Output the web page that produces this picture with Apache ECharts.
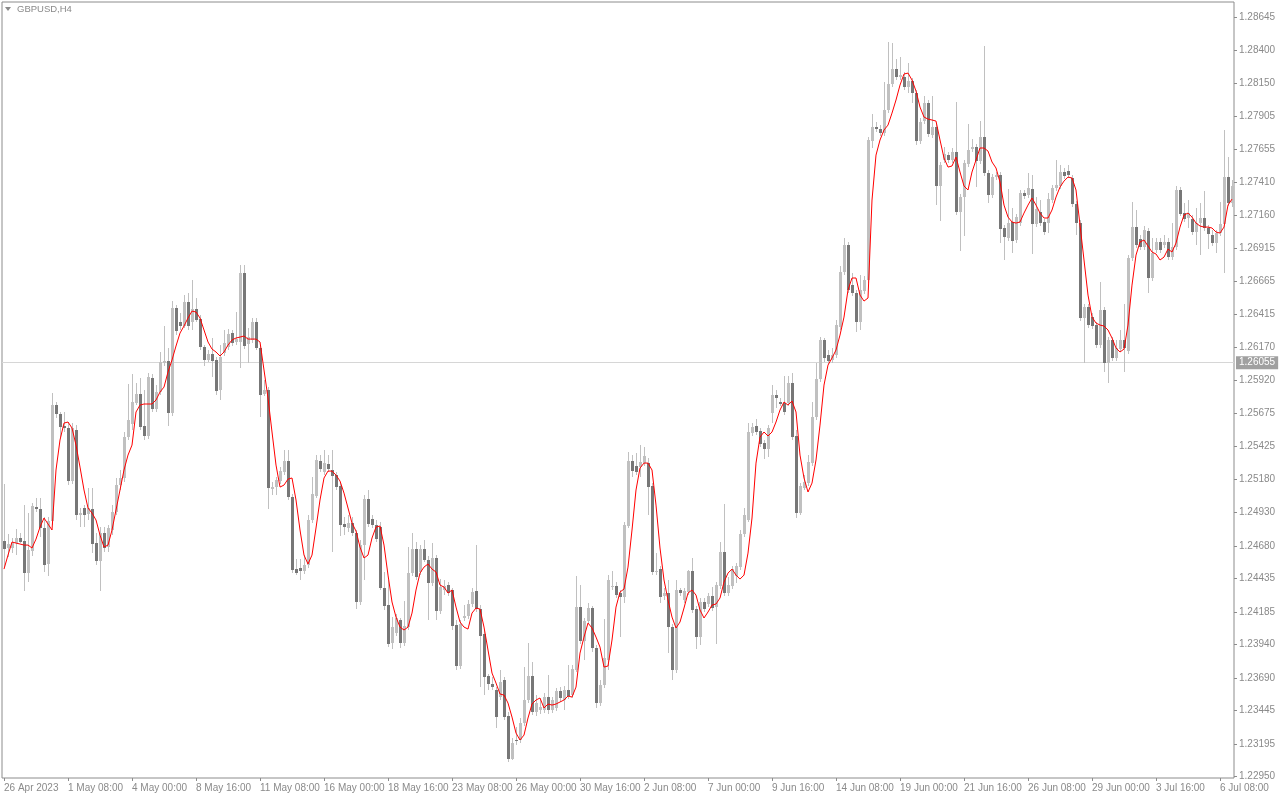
<!DOCTYPE html>
<html>
<head>
<meta charset="utf-8">
<script src="https://cdn.jsdelivr.net/npm/echarts@6/dist/echarts.min.js"></script>
<style>
html,body{margin:0;padding:0;background:#fff;}
#chart{width:1280px;height:800px;}
</style>
</head>
<body>
<div id="chart"></div>
<script>
const symbolTitle = 'GBPUSD,H4';
const currentPrice = 1.26055;

const opens = [1.24717,1.24665,1.24665,1.24702,1.24740,1.24717,1.24477,1.24642,1.24972,1.24957,
1.24815,1.24545,1.24867,1.25737,1.25670,1.25580,1.25565,1.25167,1.25550,1.24912,
1.24965,1.24920,1.24957,1.24702,1.24567,1.24777,1.24672,1.24800,1.24935,1.25137,
1.25190,1.25497,1.25595,1.25752,1.25820,1.25580,1.25505,1.25940,1.25707,1.25835,
1.26052,1.26067,1.25677,1.26465,1.26360,1.26330,1.26510,1.26360,1.26457,1.26382,
1.26172,1.26075,1.26120,1.26075,1.25850,1.26127,1.26172,1.26277,1.26210,1.26210,
1.26727,1.26195,1.26225,1.26360,1.26165,1.25820,1.25850,1.25107,1.25122,1.25167,
1.25235,1.25317,1.25047,1.24507,1.24515,1.24492,1.24537,1.24875,1.25055,1.25317,
1.25235,1.25295,1.25250,1.25212,1.25130,1.24845,1.24815,1.24852,1.24777,1.24260,
1.24687,1.25032,1.24882,1.24837,1.24822,1.24365,1.24237,1.23952,1.24027,1.24125,
1.23952,1.24072,1.24477,1.24657,1.24485,1.24657,1.24575,1.24402,1.24590,1.24192,
1.24350,1.24387,1.24350,1.24087,1.23780,1.24140,1.24155,1.24245,1.24342,1.24207,
1.24020,1.23705,1.23645,1.23600,1.23547,1.23675,1.23405,1.23082,1.23225,1.23225,
1.23352,1.23525,1.23705,1.23435,1.23450,1.23450,1.23547,1.23450,1.23465,1.23592,
1.23525,1.23600,1.23562,1.23750,1.24222,1.23967,1.24117,1.24215,1.23915,1.23502,
1.23637,1.23825,1.24372,1.24380,1.24327,1.24297,1.24830,1.25317,1.25280,1.25272,
1.25302,1.25302,1.25130,1.24485,1.24507,1.24305,1.24327,1.24072,1.23750,1.24350,
1.24275,1.24335,1.24492,1.24207,1.23997,1.24260,1.24245,1.24305,1.24222,1.24380,
1.24635,1.24327,1.24380,1.24455,1.24522,1.24770,1.24875,1.25527,1.25580,1.25542,
1.25452,1.25407,1.25677,1.25812,1.25760,1.25752,1.25752,1.25902,1.25505,1.24927,
1.25115,1.25152,1.25302,1.25647,1.25932,1.26225,1.26112,1.26075,1.26112,1.26322,
1.26735,1.26937,1.26637,1.26577,1.26360,1.26592,1.26675,1.27717,1.27822,1.27807,
1.27777,1.27950,1.28145,1.28257,1.28197,1.28197,1.28122,1.28167,1.28077,1.27717,
1.27867,1.28002,1.27762,1.27822,1.27380,1.27575,1.27612,1.27575,1.27635,1.27185,
1.27297,1.27545,1.27657,1.27672,1.27567,1.27747,1.27477,1.27312,1.27447,1.27462,
1.27065,1.26990,1.27110,1.26975,1.27102,1.27327,1.27312,1.27357,1.27095,1.27185,
1.27110,1.27102,1.27275,1.27365,1.27380,1.27485,1.27492,1.27440,1.27245,1.27102,
1.26390,1.26472,1.26397,1.26337,1.26187,1.26450,1.26052,1.26225,1.26090,1.26157,
1.26225,1.26142,1.26840,1.27072,1.26982,1.26922,1.27042,1.26690,1.26900,1.26960,
1.26937,1.26960,1.26847,1.26922,1.27350,1.27177,1.27140,1.27132,1.27035,1.27102,
1.27140,1.27065,1.27012,1.26952,1.27027,1.27095,1.27447,1.27252];

const highs = [1.25145,1.24770,1.24740,1.24807,1.24777,1.24987,1.24927,1.25002,1.25040,1.25040,
1.24897,1.24897,1.25827,1.25760,1.25685,1.25685,1.25610,1.25602,1.25587,1.24965,
1.24987,1.25115,1.25115,1.24777,1.24822,1.24822,1.24837,1.24987,1.25190,1.25250,
1.25535,1.25895,1.25970,1.25902,1.25940,1.25850,1.25977,1.25970,1.25887,1.26135,
1.26330,1.26165,1.26517,1.26487,1.26427,1.26562,1.26577,1.26675,1.26540,1.26412,
1.26187,1.26150,1.26240,1.26097,1.26187,1.26300,1.26307,1.26300,1.26435,1.26787,
1.26787,1.26315,1.26390,1.26390,1.26187,1.25925,1.25872,1.25160,1.25197,1.25272,
1.25400,1.25400,1.25070,1.24582,1.24582,1.24612,1.24912,1.25197,1.25362,1.25362,
1.25400,1.25362,1.25400,1.25235,1.25152,1.24897,1.24912,1.24897,1.24800,1.24725,
1.25062,1.25100,1.24912,1.24875,1.24860,1.24485,1.24425,1.24147,1.24170,1.24140,
1.24267,1.24672,1.24777,1.24710,1.24687,1.24725,1.24605,1.24702,1.24612,1.24432,
1.24425,1.24410,1.24365,1.24125,1.24125,1.24237,1.24275,1.24365,1.24687,1.24237,
1.24050,1.23720,1.23697,1.23622,1.23750,1.23697,1.23435,1.23240,1.23322,1.23390,
1.23772,1.23952,1.23810,1.23562,1.23525,1.23577,1.23712,1.23547,1.23615,1.23622,
1.23630,1.23787,1.23787,1.24455,1.24387,1.24140,1.24252,1.24230,1.23937,1.23675,
1.24132,1.24462,1.24492,1.24410,1.24350,1.24860,1.25385,1.25362,1.25377,1.25437,
1.25422,1.25340,1.25152,1.24627,1.24530,1.24365,1.24425,1.24095,1.24425,1.24365,
1.24365,1.24500,1.24590,1.24230,1.24290,1.24290,1.24327,1.24372,1.24410,1.24710,
1.24995,1.24447,1.24530,1.24552,1.24800,1.24965,1.25602,1.25602,1.25632,1.25565,
1.25475,1.25587,1.25887,1.25850,1.25790,1.25955,1.25955,1.25977,1.25550,1.25152,
1.25212,1.25362,1.25760,1.26052,1.26247,1.26240,1.26150,1.26165,1.26375,1.26780,
1.26990,1.26960,1.26727,1.26600,1.26712,1.26705,1.27747,1.27920,1.27860,1.27837,
1.28160,1.28460,1.28452,1.28332,1.28347,1.28235,1.28302,1.28190,1.28100,1.27890,
1.28055,1.28025,1.28055,1.27845,1.27560,1.27672,1.27635,1.27665,1.28010,1.27320,
1.27575,1.27845,1.27732,1.27695,1.27867,1.28430,1.27500,1.27470,1.27485,1.27485,
1.27087,1.27357,1.27215,1.27170,1.27350,1.27350,1.27477,1.27462,1.27297,1.27275,
1.27132,1.27327,1.27387,1.27575,1.27537,1.27515,1.27537,1.27462,1.27267,1.27125,
1.26495,1.26495,1.26427,1.26360,1.26660,1.26472,1.26247,1.26247,1.26225,1.26300,
1.26495,1.26862,1.27260,1.27200,1.27012,1.27080,1.27065,1.26990,1.26990,1.26990,
1.27012,1.26990,1.27102,1.27380,1.27372,1.27252,1.27275,1.27162,1.27215,1.27252,
1.27342,1.27087,1.27050,1.27050,1.27260,1.27800,1.27597,1.27425];

const lows = [1.24522,1.24597,1.24627,1.24612,1.24702,1.24342,1.24410,1.24605,1.24935,1.24747,
1.24485,1.24455,1.24837,1.25640,1.25497,1.25535,1.25137,1.25145,1.24875,1.24822,
1.24822,1.24875,1.24627,1.24537,1.24342,1.24635,1.24635,1.24762,1.24912,1.25100,
1.25160,1.25475,1.25550,1.25737,1.25550,1.25475,1.25482,1.25685,1.25685,1.25812,
1.26030,1.25580,1.25655,1.26262,1.26300,1.26315,1.26300,1.26300,1.26360,1.26150,
1.26030,1.26060,1.25947,1.25812,1.25775,1.26105,1.26150,1.26180,1.26187,1.26015,
1.26157,1.26052,1.26202,1.26150,1.25647,1.25805,1.24957,1.25062,1.25062,1.25145,
1.25212,1.25025,1.24477,1.24462,1.24425,1.24470,1.24515,1.24852,1.25040,1.25235,
1.25212,1.25235,1.24635,1.25100,1.24755,1.24762,1.24785,1.24755,1.24207,1.24237,
1.24425,1.24822,1.24815,1.24710,1.24350,1.24200,1.23922,1.23907,1.24005,1.23915,
1.23930,1.24050,1.24455,1.24425,1.24462,1.24560,1.24125,1.24380,1.24125,1.24170,
1.24312,1.24305,1.24050,1.23750,1.23757,1.24117,1.24132,1.24222,1.24185,1.23622,
1.23562,1.23600,1.23600,1.23315,1.23525,1.23375,1.23060,1.23075,1.23187,1.23202,
1.23330,1.23502,1.23412,1.23405,1.23420,1.23427,1.23420,1.23427,1.23442,1.23510,
1.23450,1.23532,1.23540,1.23735,1.23945,1.23825,1.24095,1.23885,1.23465,1.23480,
1.23615,1.23750,1.24350,1.24290,1.23997,1.24252,1.24815,1.25197,1.25212,1.25197,
1.25280,1.24912,1.24462,1.24462,1.24252,1.24275,1.23877,1.23675,1.23727,1.24305,
1.24252,1.24312,1.24177,1.23907,1.23937,1.24185,1.24222,1.24192,1.23945,1.24357,
1.24305,1.24305,1.24357,1.24402,1.24500,1.24747,1.24860,1.25505,1.25512,1.25422,
1.25332,1.25347,1.25602,1.25715,1.25730,1.25662,1.25730,1.25475,1.24890,1.24912,
1.25100,1.25130,1.25280,1.25625,1.25910,1.26060,1.26045,1.26052,1.26090,1.26300,
1.26712,1.26577,1.26555,1.26285,1.26300,1.26570,1.26652,1.27665,1.27785,1.27755,
1.27755,1.27927,1.28122,1.28175,1.28175,1.28100,1.28077,1.28002,1.27687,1.27695,
1.27845,1.27747,1.27740,1.27237,1.27117,1.27552,1.27552,1.27552,1.27162,1.26892,
1.27005,1.27522,1.27635,1.27372,1.27545,1.27455,1.27252,1.27290,1.27425,1.26952,
1.26825,1.26967,1.26877,1.26952,1.27080,1.27282,1.27290,1.26870,1.27072,1.27080,
1.27012,1.27027,1.27252,1.27342,1.27357,1.27432,1.27440,1.27222,1.27012,1.26367,
1.26052,1.26315,1.26307,1.26165,1.26165,1.25985,1.25902,1.26067,1.26067,1.26135,
1.25985,1.26120,1.26817,1.26915,1.26900,1.26900,1.26577,1.26667,1.26877,1.26877,
1.26915,1.26825,1.26825,1.26900,1.27155,1.27110,1.27065,1.27012,1.26937,1.26862,
1.27042,1.26907,1.26930,1.26877,1.27005,1.26727,1.27230,1.27222];

const closes = [1.24657,1.24695,1.24702,1.24740,1.24710,1.24477,1.24650,1.24980,1.24957,1.24815,
1.24537,1.24867,1.25737,1.25670,1.25572,1.25565,1.25167,1.25565,1.24912,1.24927,
1.24912,1.24965,1.24695,1.24567,1.24777,1.24665,1.24815,1.24935,1.25137,1.25190,
1.25497,1.25625,1.25760,1.25820,1.25572,1.25505,1.25947,1.25707,1.25835,1.26060,
1.26067,1.25677,1.26465,1.26292,1.26330,1.26510,1.26330,1.26457,1.26375,1.26172,
1.26075,1.26120,1.26067,1.25842,1.26097,1.26202,1.26270,1.26202,1.26232,1.26727,
1.26180,1.26247,1.26360,1.26165,1.25812,1.25850,1.25115,1.25122,1.25175,1.25242,
1.25317,1.25047,1.24500,1.24477,1.24492,1.24537,1.24875,1.25070,1.25325,1.25257,
1.25302,1.25257,1.25205,1.25122,1.24837,1.24822,1.24852,1.24777,1.24260,1.24687,
1.25032,1.24845,1.24837,1.24732,1.24365,1.24230,1.23945,1.24072,1.24140,1.23952,
1.24080,1.24477,1.24657,1.24447,1.24657,1.24575,1.24402,1.24590,1.24192,1.24372,
1.24380,1.24327,1.24080,1.23780,1.24095,1.24155,1.24245,1.24335,1.24207,1.24005,
1.23697,1.23645,1.23622,1.23397,1.23660,1.23397,1.23082,1.23202,1.23217,1.23352,
1.23525,1.23705,1.23435,1.23502,1.23472,1.23547,1.23450,1.23525,1.23592,1.23540,
1.23600,1.23555,1.23757,1.24222,1.23967,1.24117,1.24215,1.23915,1.23502,1.23637,
1.23840,1.24425,1.24380,1.24312,1.24297,1.24837,1.25317,1.25242,1.25235,1.25310,
1.25355,1.25122,1.24485,1.24492,1.24297,1.24327,1.24072,1.23750,1.24350,1.24327,
1.24342,1.24492,1.24200,1.23997,1.24260,1.24207,1.24305,1.24215,1.24387,1.24635,
1.24327,1.24387,1.24507,1.24530,1.24770,1.24912,1.25535,1.25572,1.25535,1.25445,
1.25407,1.25565,1.25812,1.25790,1.25745,1.25685,1.25902,1.25497,1.24927,1.25130,
1.25160,1.25310,1.25647,1.25932,1.26225,1.26090,1.26067,1.26112,1.26337,1.26735,
1.26937,1.26600,1.26577,1.26360,1.26600,1.26675,1.27725,1.27822,1.27807,1.27777,
1.27950,1.28145,1.28257,1.28197,1.28212,1.28122,1.28167,1.28077,1.27717,1.27860,
1.28002,1.27770,1.27822,1.27380,1.27537,1.27620,1.27575,1.27635,1.27185,1.27297,
1.27552,1.27650,1.27672,1.27567,1.27747,1.27477,1.27312,1.27447,1.27462,1.27057,
1.26997,1.27102,1.26967,1.27147,1.27327,1.27305,1.27365,1.27095,1.27207,1.27102,
1.27035,1.27282,1.27365,1.27387,1.27485,1.27455,1.27462,1.27245,1.27102,1.26390,
1.26472,1.26337,1.26330,1.26187,1.26450,1.26052,1.26225,1.26090,1.26165,1.26225,
1.26165,1.26840,1.27072,1.26937,1.26922,1.27050,1.26690,1.26877,1.26960,1.26900,
1.26960,1.26847,1.26922,1.27350,1.27170,1.27132,1.27177,1.27035,1.27102,1.27140,
1.27065,1.27020,1.26952,1.27027,1.27095,1.27447,1.27252,1.27380];

const maLine = [1.24507,1.24612,1.24710,1.24702,1.24695,1.24687,1.24687,1.24665,1.24732,1.24822,
1.24890,1.24845,1.24800,1.25250,1.25475,1.25602,1.25610,1.25565,1.25437,1.25272,
1.25100,1.24965,1.24927,1.24875,1.24762,1.24672,1.24687,1.24800,1.24950,1.25100,
1.25250,1.25362,1.25437,1.25685,1.25737,1.25745,1.25745,1.25745,1.25775,1.25835,
1.25872,1.25985,1.26075,1.26180,1.26277,1.26330,1.26390,1.26442,1.26435,1.26390,
1.26300,1.26210,1.26157,1.26135,1.26105,1.26135,1.26187,1.26225,1.26240,1.26247,
1.26255,1.26232,1.26232,1.26232,1.26210,1.26000,1.25790,1.25535,1.25287,1.25122,
1.25137,1.25182,1.25190,1.25025,1.24800,1.24612,1.24545,1.24612,1.24815,1.25025,
1.25190,1.25242,1.25242,1.25212,1.25167,1.25077,1.24965,1.24852,1.24792,1.24672,
1.24590,1.24612,1.24740,1.24822,1.24830,1.24687,1.24462,1.24260,1.24147,1.24072,
1.24050,1.24072,1.24177,1.24350,1.24477,1.24522,1.24545,1.24507,1.24485,1.24387,
1.24372,1.24327,1.24350,1.24222,1.24110,1.24072,1.24057,1.24177,1.24215,1.24207,
1.24072,1.23900,1.23727,1.23652,1.23570,1.23562,1.23502,1.23397,1.23277,1.23225,
1.23262,1.23390,1.23495,1.23525,1.23540,1.23465,1.23495,1.23487,1.23495,1.23510,
1.23525,1.23555,1.23547,1.23622,1.23877,1.23997,1.24102,1.24065,1.23997,1.23922,
1.23772,1.23780,1.23975,1.24222,1.24335,1.24357,1.24522,1.24800,1.25100,1.25265,
1.25302,1.25302,1.25250,1.24987,1.24665,1.24425,1.24275,1.24147,1.24065,1.24110,
1.24215,1.24327,1.24350,1.24312,1.24200,1.24140,1.24185,1.24237,1.24245,1.24290,
1.24410,1.24477,1.24507,1.24462,1.24432,1.24462,1.24627,1.24890,1.25302,1.25497,
1.25535,1.25505,1.25535,1.25610,1.25700,1.25760,1.25737,1.25767,1.25685,1.25362,
1.25190,1.25085,1.25152,1.25325,1.25587,1.25887,1.26037,1.26090,1.26150,1.26262,
1.26397,1.26600,1.26690,1.26690,1.26562,1.26517,1.26540,1.27275,1.27612,1.27725,
1.27800,1.27837,1.27927,1.28025,1.28137,1.28220,1.28227,1.28175,1.28092,1.27972,
1.27897,1.27882,1.27875,1.27867,1.27725,1.27590,1.27522,1.27530,1.27597,1.27485,
1.27380,1.27350,1.27485,1.27575,1.27665,1.27665,1.27642,1.27560,1.27515,1.27410,
1.27237,1.27147,1.27110,1.27102,1.27110,1.27177,1.27237,1.27290,1.27237,1.27177,
1.27140,1.27140,1.27200,1.27297,1.27372,1.27417,1.27447,1.27440,1.27350,1.27087,
1.26825,1.26562,1.26397,1.26352,1.26337,1.26330,1.26300,1.26240,1.26165,1.26135,
1.26157,1.26337,1.26637,1.26862,1.26960,1.26975,1.26930,1.26885,1.26870,1.26825,
1.26847,1.26907,1.26885,1.26952,1.27072,1.27162,1.27177,1.27147,1.27102,1.27080,
1.27072,1.27072,1.27065,1.27035,1.27027,1.27072,1.27237,1.27282];

const yTickLabels = ['1.28645','1.28400','1.28150','1.27905','1.27655','1.27410','1.27160','1.26915',
'1.26665','1.26415','1.26170','1.25920','1.25675','1.25425','1.25180','1.24930','1.24680','1.24435',
'1.24185','1.23940','1.23690','1.23445','1.23195','1.22950'];

const xTickLabels = ['26 Apr 2023','1 May 08:00','4 May 00:00','8 May 16:00','11 May 08:00','16 May 00:00',
'18 May 16:00','23 May 08:00','26 May 00:00','30 May 16:00','2 Jun 08:00','7 Jun 00:00','9 Jun 16:00',
'14 Jun 08:00','19 Jun 00:00','21 Jun 16:00','26 Jun 08:00','29 Jun 00:00','3 Jul 16:00','6 Jul 08:00'];
const labelEvery = 16;

// H4 bar times (weekdays only)
const monthNames = ['Jan','Feb','Mar','Apr','May','Jun','Jul','Aug','Sep','Oct','Nov','Dec'];
const categories = [];
{
  let t = Date.UTC(2023, 3, 26, 16);
  while (categories.length < opens.length) {
    const d = new Date(t);
    const wd = d.getUTCDay();
    if (wd !== 0 && wd !== 6) {
      const hh = String(d.getUTCHours()).padStart(2, '0');
      categories.push(d.getUTCDate() + ' ' + monthNames[d.getUTCMonth()] + ' ' + hh + ':00');
    }
    t += 4 * 3600 * 1000;
  }
}

const candleData = opens.map((o, i) => [i, o, closes[i], lows[i], highs[i]]);

const LIGHT = '#c0c0c0';
const DARK = '#777777';
const TEXT = '#8a8a8a';
const FONT = 'Liberation Sans, Arial, sans-serif';

function renderCandle(params, api) {
  const i = api.value(0);
  const o = api.value(1), c = api.value(2), l = api.value(3), h = api.value(4);
  const pO = api.coord([i, o]);
  const pC = api.coord([i, c]);
  const pL = api.coord([i, l]);
  const pH = api.coord([i, h]);
  const x = Math.round(pO[0]);
  const top = Math.round(Math.min(pO[1], pC[1]));
  const bot = Math.round(Math.max(pO[1], pC[1]));
  const bull = c >= o;
  return {
    type: 'group',
    children: [
      {type: 'rect', shape: {x: x, y: Math.round(pH[1]), width: 1, height: Math.max(1, Math.round(pL[1]) - Math.round(pH[1]))}, style: {fill: LIGHT}},
      {type: 'rect', shape: {x: x - 1, y: top, width: 3, height: Math.max(1, bot - top)}, style: {fill: bull ? LIGHT : DARK}}
    ]
  };
}

const chart = echarts.init(document.getElementById('chart'), null, {renderer: 'canvas'});
chart.setOption({
  animation: false,
  backgroundColor: '#ffffff',
  grid: {left: 2, right: 46, top: 2, bottom: 22, show: true, borderColor: '#8c8c8c', borderWidth: 1, backgroundColor: '#ffffff'},
  graphic: [
    {type: 'polygon', shape: {points: [[5, 7], [11, 7], [8, 11]]}, style: {fill: '#8a8a8a'}, z: 100},
    {type: 'text', left: 17, top: 4, style: {text: symbolTitle, font: '9.5px ' + FONT, fill: '#8a8a8a'}, z: 100}
  ],
  xAxis: {
    type: 'category',
    data: categories,
    boundaryGap: true,
    axisLine: {show: false},
    axisTick: {show: true, interval: labelEvery - 1, alignWithLabel: true, length: 3, lineStyle: {color: '#8c8c8c'}},
    axisLabel: {
      interval: labelEvery - 1,
      align: 'left',
      color: TEXT,
      fontFamily: FONT,
      fontSize: 10,
      margin: 5,
      formatter: (v, idx) => xTickLabels[Math.round(idx / labelEvery)] || ''
    },
    splitLine: {show: false}
  },
  yAxis: {
    type: 'value',
    position: 'right',
    min: 1.2294,
    max: 1.2876,
    scale: true,
    axisLine: {show: false},
    axisTick: {show: true, length: 3, lineStyle: {color: '#8c8c8c'}, customValues: yTickLabels.map(Number)},
    axisLabel: {
      color: TEXT,
      fontFamily: FONT,
      fontSize: 10,
      margin: 5,
      customValues: yTickLabels.map(Number),
      formatter: v => v.toFixed(5)
    },
    splitLine: {show: false}
  },
  series: [
    {
      type: 'custom',
      data: candleData,
      renderItem: renderCandle,
      encode: {x: 0, y: [1, 2, 3, 4]},
      clip: true,
      z: 2
    },
    {
      type: 'line',
      data: maLine,
      symbol: 'none',
      smooth: false,
      lineStyle: {color: '#ff0000', width: 1},
      z: 4,
      markLine: {
        silent: true,
        symbol: 'none',
        animation: false,
        precision: 5,
        data: [{yAxis: currentPrice}],
        lineStyle: {color: '#d6d6d6', width: 1, type: 'solid'},
        label: {
          position: 'end',
          distance: 2,
          formatter: currentPrice.toFixed(5),
          backgroundColor: '#a0a0a0',
          color: '#ffffff',
          fontFamily: FONT,
          fontSize: 10,
          padding: [2, 3, 1, 3]
        },
        z: 1
      }
    }
  ]
});
</script>
</body>
</html>
